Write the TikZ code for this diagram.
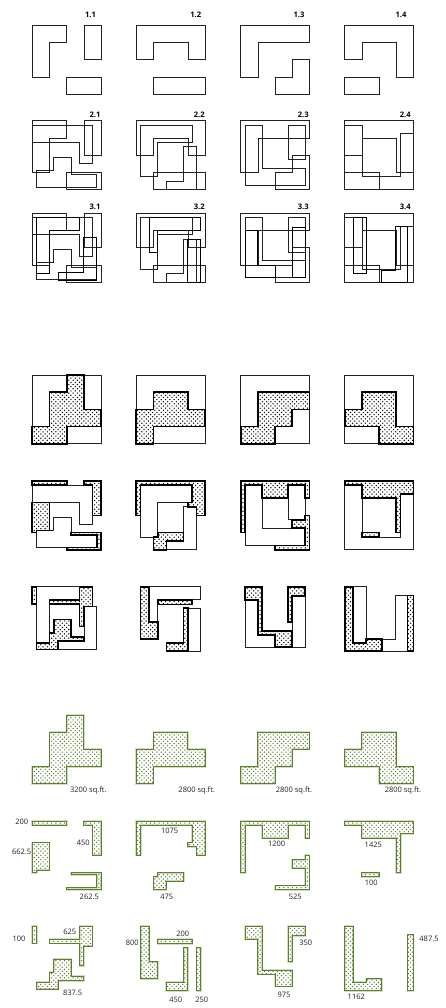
\documentclass[tikz,border=0pt]{standalone}
\usepackage{fontspec}
\usetikzlibrary{patterns}
\setmainfont{Open Sans}
\definecolor{grn}{HTML}{5F7F30}
\definecolor{pale}{HTML}{D3DEC0}
\definecolor{dotg}{HTML}{4F7A2A}
\definecolor{ink}{HTML}{222222}
\pgfdeclarepatternformonly{sdots}{\pgfqpoint{-1pt}{-1pt}}{\pgfqpoint{5.3pt}{5.3pt}}{\pgfqpoint{4.3pt}{4.3pt}}{%
  \pgfpathcircle{\pgfqpoint{0pt}{0pt}}{0.72pt}%
  \pgfpathcircle{\pgfqpoint{2.15pt}{2.15pt}}{0.72pt}%
  \pgfusepath{fill}}
\tikzset{
  cellat/.style 2 args={shift={(#1pt,-#2pt)},x=17.2pt,y=-17.2pt},
  plan/.style={draw=ink,line width=0.75pt,line join=miter},
  planb/.style={draw=black,line width=0.85pt,line join=miter},
  thinline/.style={draw=ink,line width=0.65pt},
  blk/.style={draw=black,line width=1.7pt,line join=miter,pattern=sdots,pattern color=black},
  gr/.style={draw=grn,line width=0.85pt,line join=miter,pattern=sdots,pattern color=dotg,
    preaction={draw=pale,line width=1.9pt}},
  num/.style={font=\fontsize{7.5}{8}\selectfont,text=ink,inner sep=0pt},
  tag/.style={font=\fontsize{7.6}{8}\selectfont\bfseries,text=black,inner sep=0pt}
}
% first layer
\def\LayA#1{\draw[#1] (0,0)--(2,0)--(2,1)--(1,1)--(1,3)--(0,3)--cycle;
  \draw[#1] (3,0) rectangle (4,2); \draw[#1] (2,3) rectangle (4,4);}
\def\LayB#1{\draw[#1] (0,0)--(4,0)--(4,2)--(3,2)--(3,1)--(1,1)--(1,2)--(0,2)--cycle;
  \draw[#1] (1,3) rectangle (4,4);}
\def\LayC#1{\draw[#1] (0,0)--(4,0)--(4,1)--(1,1)--(1,3)--(0,3)--cycle;
  \draw[#1] (4,2)--(4,4)--(2,4)--(2,3)--(3,3)--(3,2)--cycle;}
\def\LayD#1{\draw[#1] (0,0)--(4,0)--(4,3)--(3,3)--(3,1)--(1,1)--(1,2)--(0,2)--cycle;
  \draw[#1] (0,3) rectangle (2,4);}
% second layer
\def\SecA#1{\draw[#1] (0,.25)--(3.5,.25)--(3.5,2.5)--(2.75,2.5)--(2.75,1.25)--(0,1.25)--cycle;
  \draw[#1] (.25,2.87)--(1.25,2.87)--(1.25,2.12)--(2.25,2.12)--(2.25,3.12)--(3.75,3.12)--(3.75,3.87)--(.25,3.87)--cycle;}
\def\SecB#1{\draw[#1] (.25,.25)--(3.25,.25)--(3.25,1.25)--(1.25,1.25)--(1.25,3.25)--(.25,3.25)--cycle;
  \draw[#1] (2.75,1.5)--(3.5,1.5)--(3.5,4)--(1.75,4)--(1.75,3.5)--(2.75,3.5)--cycle;}
\def\SecC#1{\draw[#1] (.25,.25)--(1.25,.25)--(1.25,2.75)--(3.75,2.75)--(3.75,3.75)--(.25,3.75)--cycle;
  \draw[#1] (2.75,.25) rectangle (3.75,2.25);}
\def\SecD#1{\draw[#1] (0,.25)--(1,.25)--(1,3.25)--(3.25,3.25)--(3.25,.75)--(4,.75)--(4,4)--(0,4)--cycle;}
% third layer
\def\ThiA#1{\draw[#1] (.25,.25)--(2.75,.25)--(2.75,1)--(1,1)--(1,3.5)--(.25,3.5)--cycle;
  \draw[#1] (3,1.4)--(3.75,1.4)--(3.75,3.9)--(1.5,3.9)--(1.5,3.42)--(3,3.42)--cycle;}
\def\ThiB#1{\draw[#1] (.75,.25)--(3.75,.25)--(3.75,1)--(1.25,1)--(1.25,2.3)--(.75,2.3)--cycle;
  \draw[#1] (3,1.5) rectangle (3.75,4);}
\def\ThiC#1{\draw[#1] (.25,1)--(1,1)--(1,3.05)--(2,3.05)--(2,3.75)--(.25,3.75)--cycle;
  \draw[#1] (3,.8) rectangle (3.75,3.75);}
\def\ThiD#1{\draw[#1] (.5,.25)--(1.25,.25)--(1.25,3.5)--(.5,3.5)--cycle;
  \draw[#1] (2.92,.75)--(3.65,.75)--(3.65,4)--(2.15,4)--(2.15,3.3)--(2.92,3.3)--cycle;}
% hatched regions, first level
\def\HatA#1{\draw[#1] (2,0)--(3,0)--(3,2)--(4,2)--(4,3)--(2,3)--(2,4)--(0,4)--(0,3)--(1,3)--(1,1)--(2,1)--cycle;}
\def\HatB#1{\draw[#1] (1,1)--(3,1)--(3,2)--(4,2)--(4,3)--(1,3)--(1,4)--(0,4)--(0,2)--(1,2)--cycle;}
\def\HatC#1{\draw[#1] (1,1)--(4,1)--(4,2)--(3,2)--(3,3)--(2,3)--(2,4)--(0,4)--(0,3)--(1,3)--cycle;}
\def\HatD#1{\draw[#1] (1,1)--(3,1)--(3,3)--(4,3)--(4,4)--(2,4)--(2,3)--(0,3)--(0,2)--(1,2)--cycle;}
% hatched regions, second level
\def\MidA#1{\draw[#1] (0,0) rectangle (2,.25);
  \draw[#1] (3,0)--(4,0)--(4,2)--(3.5,2)--(3.5,.25)--(3,.25)--cycle;
  \draw[#1] (0,1.25)--(1,1.25)--(1,2.87)--(.25,2.87)--(.25,3)--(0,3)--cycle;
  \draw[#1] (2.25,3)--(4,3)--(4,4)--(2,4)--(2,3.87)--(3.75,3.87)--(3.75,3.12)--(2.25,3.12)--cycle;}
\def\MidB#1{\draw[#1] (0,0)--(4,0)--(4,2)--(3.5,2)--(3.5,1.5)--(3,1.5)--(3,1.25)--(3.25,1.25)--(3.25,.25)--(.25,.25)--(.25,2)--(0,2)--cycle;
  \draw[#1] (1.25,3)--(2.75,3)--(2.75,3.5)--(1.75,3.5)--(1.75,4)--(1,4)--(1,3.25)--(1.25,3.25)--cycle;}
\def\MidC#1{\draw[#1] (0,0)--(4,0)--(4,1)--(3.75,1)--(3.75,.25)--(2.75,.25)--(2.75,1)--(1.25,1)--(1.25,.25)--(.25,.25)--(.25,3)--(0,3)--cycle;
  \draw[#1] (3,2.25)--(3.75,2.25)--(3.75,2)--(4,2)--(4,4)--(2,4)--(2,3.75)--(3.75,3.75)--(3.75,2.75)--(3,2.75)--cycle;}
\def\MidD#1{\draw[#1] (0,0)--(4,0)--(4,.75)--(3.25,.75)--(3.25,3)--(3,3)--(3,1)--(1,1)--(1,.25)--(0,.25)--cycle;
  \draw[#1] (1,3) rectangle (2,3.25);}
% hatched regions, third level
\def\LowA#1{\draw[#1] (0,.25) rectangle (.25,1.25);
  \draw[#1] (2.75,.25)--(3.5,.25)--(3.5,1.4)--(3,1.4)--(3,2.55)--(2.75,2.55)--(2.75,1.25)--(1,1.25)--(1,1)--(2.75,1)--cycle;
  \draw[#1] (1.25,2.15)--(2.25,2.15)--(2.25,3.15)--(3,3.15)--(3,3.42)--(1.5,3.42)--(1.5,3.9)--(.25,3.9)--(.25,3.5)--(1,3.5)--(1,2.93)--(1.25,2.93)--cycle;}
\def\LowB#1{\draw[#1] (.25,.25)--(.75,.25)--(.75,2.3)--(1.25,2.3)--(1.25,3.3)--(.25,3.3)--cycle;
  \draw[#1] (1.25,1) rectangle (3.25,1.27);
  \draw[#1] (2.75,1.5)--(3,1.5)--(3,4)--(1.75,4)--(1.75,3.5)--(2.75,3.5)--cycle;}
\def\LowBextra#1{\draw[#1] (3.5,1.5) rectangle (3.75,4);}
\def\LowC#1{\draw[#1] (.25,.25)--(1.25,.25)--(1.25,2.8)--(3,2.8)--(3,3.75)--(2,3.75)--(2,3.05)--(1,3.05)--(1,1)--(.25,1)--cycle;
  \draw[#1] (2.75,.25)--(3.75,.25)--(3.75,.8)--(3,.8)--(3,2.3)--(2.75,2.3)--cycle;}
\def\LowD#1{\draw[#1] (0,.25)--(.5,.25)--(.5,3.5)--(1.25,3.5)--(1.25,3.3)--(2.15,3.3)--(2.15,4)--(0,4)--cycle;
  \draw[#1] (3.65,.75) rectangle (4,4);}
\begin{document}
\begin{tikzpicture}[x=1pt,y=1pt]
\useasboundingbox (0,0) rectangle (445,-1008);
% row 1
\begin{scope}[cellat={32.3}{25.3}]\LayA{plan}\end{scope}
\begin{scope}[cellat={136.3}{25.3}]\LayB{plan}\end{scope}
\begin{scope}[cellat={240.7}{25.3}]\LayC{plan}\end{scope}
\begin{scope}[cellat={344.7}{25.3}]\LayD{plan}\end{scope}
% row 2
\begin{scope}[cellat={32.3}{120.7}]\LayA{plan}\SecA{plan}\end{scope}
\begin{scope}[cellat={136.3}{120.7}]\LayB{plan}\SecB{plan}\end{scope}
\begin{scope}[cellat={240.7}{120.7}]\LayC{plan}\SecC{plan}\end{scope}
\begin{scope}[cellat={344.7}{120.7}]\LayD{plan}\SecD{plan}\end{scope}
% row 3
\begin{scope}[cellat={32.3}{213.3}]\LayA{plan}\SecA{plan}\ThiA{planb}\end{scope}
\begin{scope}[cellat={136.3}{213.3}]\LayB{plan}\SecB{plan}\ThiB{planb}\end{scope}
\begin{scope}[cellat={240.7}{213.3}]\LayC{plan}\SecC{plan}\ThiC{planb}\end{scope}
\begin{scope}[cellat={344.7}{213.3}]\LayD{plan}\SecD{plan}\ThiD{planb}\end{scope}
% row 4
\begin{scope}[cellat={32.3}{375}]\draw[plan] (0,0) rectangle (4,4);\HatA{blk}\end{scope}
\begin{scope}[cellat={136.3}{375}]\draw[plan] (0,0) rectangle (4,4);\HatB{blk}\end{scope}
\begin{scope}[cellat={240.7}{375}]\draw[plan] (0,0) rectangle (4,4);\HatC{blk}\end{scope}
\begin{scope}[cellat={344.7}{375}]\draw[plan] (0,0) rectangle (4,4);\HatD{blk}\end{scope}
% row 5
\begin{scope}[cellat={32.3}{481}]\SecA{thinline}\MidA{blk}\end{scope}
\begin{scope}[cellat={136.3}{481}]\SecB{thinline}\MidB{blk}\end{scope}
\begin{scope}[cellat={240.7}{481}]\SecC{thinline}\MidC{blk}\end{scope}
\begin{scope}[cellat={344.7}{481}]\SecD{thinline}\MidD{blk}\end{scope}
% row 6
\begin{scope}[cellat={32.3}{582.5}]\ThiA{thinline}\LowA{blk}\end{scope}
\begin{scope}[cellat={136.3}{582.5}]\ThiB{thinline}\LowB{blk}\end{scope}
\begin{scope}[cellat={240.7}{582.5}]\ThiC{thinline}\LowC{blk}\end{scope}
\begin{scope}[cellat={344.7}{582.5}]\ThiD{thinline}\LowD{blk}\end{scope}
% row 7
\begin{scope}[cellat={32.3}{715}]\HatA{gr}\end{scope}
\begin{scope}[cellat={136.3}{715}]\HatB{gr}\end{scope}
\begin{scope}[cellat={240.7}{715}]\HatC{gr}\end{scope}
\begin{scope}[cellat={344.7}{715}]\HatD{gr}\end{scope}
% row 8
\begin{scope}[cellat={32.3}{821}]\MidA{gr}\end{scope}
\begin{scope}[cellat={136.3}{821}]\MidB{gr}\end{scope}
\begin{scope}[cellat={240.7}{821}]\MidC{gr}\end{scope}
\begin{scope}[cellat={344.7}{821}]\MidD{gr}\end{scope}
% row 9
\begin{scope}[cellat={32.3}{922}]\LowA{gr}\end{scope}
\begin{scope}[cellat={136.3}{922}]\LowB{gr}\LowBextra{gr}\end{scope}
\begin{scope}[cellat={240.7}{922}]\LowC{gr}\end{scope}
\begin{scope}[cellat={344.7}{922}]\LowD{gr}\end{scope}
% scheme tags
\node[tag] (ta) at (90.5,-15) {1.1};
\node[tag] (tb) at (195.7,-15) {1.2};
\node[tag] (tc) at (299,-15) {1.3};
\node[tag] (td) at (401,-15) {1.4};
\node[tag] (te) at (95,-114.7) {2.1};
\node[tag] (tf) at (199.3,-114.7) {2.2};
\node[tag] (tg) at (303.3,-114.7) {2.3};
\node[tag] (th) at (405.3,-114.7) {2.4};
\node[tag] (ti) at (95,-207) {3.1};
\node[tag] (tj) at (199.3,-207) {3.2};
\node[tag] (tk) at (303.3,-207) {3.3};
\node[tag] (tl) at (405.3,-207) {3.4};
% areas
\node[num] (na) at (88.3,-791) {3200 sq.ft.};
\node[num] (nb) at (196.7,-791) {2800 sq.ft.};
\node[num] (nc) at (294,-791) {2800 sq.ft.};
\node[num] (nd) at (403,-791) {2800 sq.ft.};
\node[num] (ne) at (21.7,-822.3) {200};
\node[num] (nf) at (21.7,-852) {662.5};
\node[num] (ng) at (83.3,-843) {450};
\node[num] (nh) at (89.3,-897.3) {262.5};
\node[num] (ni) at (169.7,-831) {1075};
\node[num] (nj) at (166.7,-897.3) {475};
\node[num] (nk) at (276.7,-844) {1200};
\node[num] (nl) at (295.3,-897.3) {525};
\node[num] (nm) at (373.3,-845) {1425};
\node[num] (nn) at (371.3,-883) {100};
\node[num] (no) at (19,-939) {100};
\node[num] (np) at (69.7,-932) {625};
\node[num] (nq) at (72.7,-993.3) {837.5};
\node[num] (nr) at (132.3,-943) {800};
\node[num] (ns) at (182.7,-934) {200};
\node[num] (nt) at (175.7,-1000) {450};
\node[num] (nu) at (201.7,-1000) {250};
\node[num] (nv) at (305.7,-943) {350};
\node[num] (nw) at (284,-995) {975};
\node[num] (nx) at (356.3,-997) {1162};
\node[num] (ny) at (429,-939) {487.5};
\end{tikzpicture}
\end{document}
